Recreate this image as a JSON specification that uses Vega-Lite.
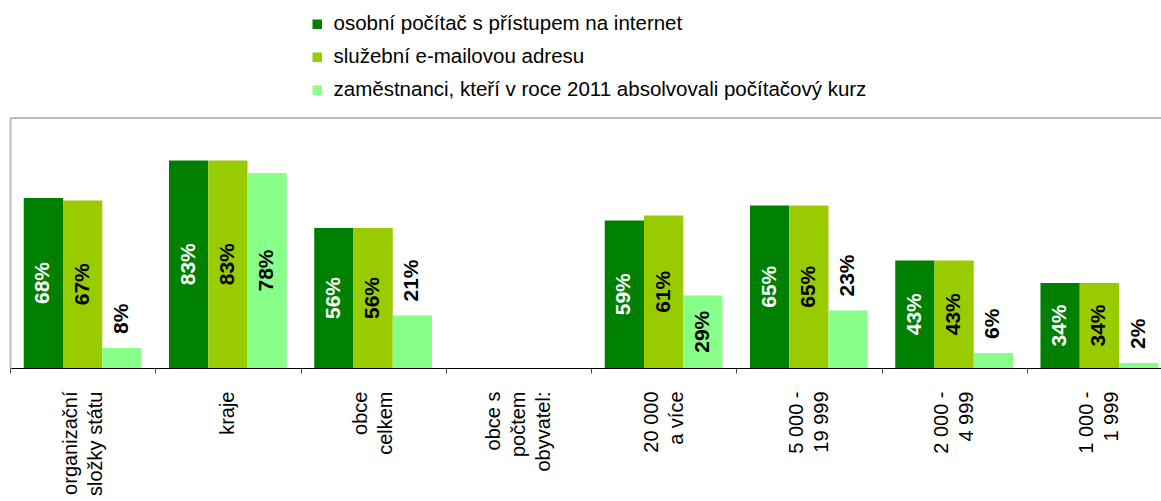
{
  "$schema": "https://vega.github.io/schema/vega-lite/v6.json",
  "autosize": {"type": "none"},
  "padding": {"left": 10, "top": 118, "right": 0, "bottom": 133},
  "width": 1151,
  "height": 250,
  "background": "white",
  "config": {
    "view": {"stroke": null},
    "font": "Liberation Sans",
    "axis": {"labelFont": "Liberation Sans", "titleFont": "Liberation Sans"},
    "legend": {"labelFont": "Liberation Sans"}
  },
  "data": {
    "values": [
      {"cat": "organizační\nsložky státu", "s": "osobní počítač s přístupem na internet", "v": 0.68},
      {"cat": "organizační\nsložky státu", "s": "služební e-mailovou adresu", "v": 0.67},
      {"cat": "organizační\nsložky státu", "s": "zaměstnanci, kteří v roce 2011 absolvovali počítačový kurz", "v": 0.08},
      {"cat": "kraje", "s": "osobní počítač s přístupem na internet", "v": 0.83},
      {"cat": "kraje", "s": "služební e-mailovou adresu", "v": 0.83},
      {"cat": "kraje", "s": "zaměstnanci, kteří v roce 2011 absolvovali počítačový kurz", "v": 0.78},
      {"cat": "obce\ncelkem", "s": "osobní počítač s přístupem na internet", "v": 0.56},
      {"cat": "obce\ncelkem", "s": "služební e-mailovou adresu", "v": 0.56},
      {"cat": "obce\ncelkem", "s": "zaměstnanci, kteří v roce 2011 absolvovali počítačový kurz", "v": 0.21},
      {"cat": "20 000\na více", "s": "osobní počítač s přístupem na internet", "v": 0.59},
      {"cat": "20 000\na více", "s": "služební e-mailovou adresu", "v": 0.61},
      {"cat": "20 000\na více", "s": "zaměstnanci, kteří v roce 2011 absolvovali počítačový kurz", "v": 0.29},
      {"cat": "5 000 -\n19 999", "s": "osobní počítač s přístupem na internet", "v": 0.65},
      {"cat": "5 000 -\n19 999", "s": "služební e-mailovou adresu", "v": 0.65},
      {"cat": "5 000 -\n19 999", "s": "zaměstnanci, kteří v roce 2011 absolvovali počítačový kurz", "v": 0.23},
      {"cat": "2 000 -\n4 999", "s": "osobní počítač s přístupem na internet", "v": 0.43},
      {"cat": "2 000 -\n4 999", "s": "služební e-mailovou adresu", "v": 0.43},
      {"cat": "2 000 -\n4 999", "s": "zaměstnanci, kteří v roce 2011 absolvovali počítačový kurz", "v": 0.06},
      {"cat": "1 000 -\n1 999", "s": "osobní počítač s přístupem na internet", "v": 0.34},
      {"cat": "1 000 -\n1 999", "s": "služební e-mailovou adresu", "v": 0.34},
      {"cat": "1 000 -\n1 999", "s": "zaměstnanci, kteří v roce 2011 absolvovali počítačový kurz", "v": 0.02}
    ]
  },
  "layer": [
    {
      "mark": {"type": "rule", "color": "#BDBDBD", "strokeWidth": 2},
      "encoding": {"y": {"datum": 1, "type": "quantitative"}}
    },
    {
      "encoding": {
        "x": {
          "field": "cat",
          "type": "nominal",
          "scale": {
            "domain": ["organizační\nsložky státu", "kraje", "obce\ncelkem", "obce s\npočtem\nobyvatel:", "20 000\na více", "5 000 -\n19 999", "2 000 -\n4 999", "1 000 -\n1 999"],
            "paddingInner": 0,
            "paddingOuter": 0,
            "range": [0, 1162]
          },
          "axis": {
            "title": null,
            "labelAngle": -90,
            "labelAlign": "right",
            "labelBaseline": "middle",
            "labelExpr": "split(datum.label, '\\n')",
            "labelFontSize": 20,
            "labelLineHeight": 25,
            "labelColor": "black",
            "labelPadding": 18,
            "labelLimit": 0,
            "labelOffset": {
              "condition": [
                {"test": "datum.value == 'kraje'", "value": 0},
                {"test": "datum.value == 'obce s\\npočtem\\nobyvatel:'", "value": -25}
              ],
              "value": -12.5
            },
            "tickBand": "extent",
            "tickSize": 5,
            "tickColor": "#444444",
            "domainColor": "black",
            "domainWidth": 1,
            "grid": false
          }
        },
        "xOffset": {
          "field": "s",
          "type": "nominal",
          "sort": null,
          "scale": {"paddingInner": 0, "paddingOuter": 0.35}
        }
      },
      "layer": [
        {
          "mark": {"type": "bar"},
          "encoding": {
            "y": {
              "field": "v",
              "type": "quantitative",
              "scale": {"domain": [0, 1], "nice": false},
              "axis": {"title": null, "labels": false, "ticks": false, "grid": false, "domainColor": "#BDBDBD", "domainWidth": 2}
            },
            "color": {
              "field": "s",
              "type": "nominal",
              "sort": null,
              "scale": {"range": ["#008000", "#99CC00", "#88FF88"]},
              "legend": {
                "title": null,
                "orient": "none",
                "legendX": 297,
                "legendY": -104,
                "direction": "vertical",
                "symbolType": "square",
                "symbolSize": 90,
                "symbolStrokeWidth": 0,
                "labelFontSize": 20.5,
                "labelColor": "black",
                "labelOffset": 6,
                "labelLimit": 0,
                "rowPadding": 12,
                "padding": 0
              }
            }
          }
        },
        {
          "transform": [
            {"filter": "datum.v >= 0.25"},
            {"calculate": "datum.v / 2", "as": "mid"}
          ],
          "mark": {"type": "text", "angle": 270, "align": "center", "baseline": "middle", "fontSize": 21, "fontWeight": "bold"},
          "encoding": {
            "y": {"field": "mid", "type": "quantitative"},
            "text": {"field": "v", "type": "quantitative", "format": ".0%"},
            "color": {
              "condition": {"test": "datum.s == 'osobní počítač s přístupem na internet'", "value": "white"},
              "value": "black"
            }
          }
        },
        {
          "transform": [{"filter": "datum.v < 0.25"}],
          "mark": {"type": "text", "angle": 270, "align": "left", "baseline": "middle", "dx": 14, "fontSize": 21, "fontWeight": "bold", "color": "black"},
          "encoding": {
            "y": {"field": "v", "type": "quantitative"},
            "text": {"field": "v", "type": "quantitative", "format": ".0%"}
          }
        }
      ]
    }
  ]
}
